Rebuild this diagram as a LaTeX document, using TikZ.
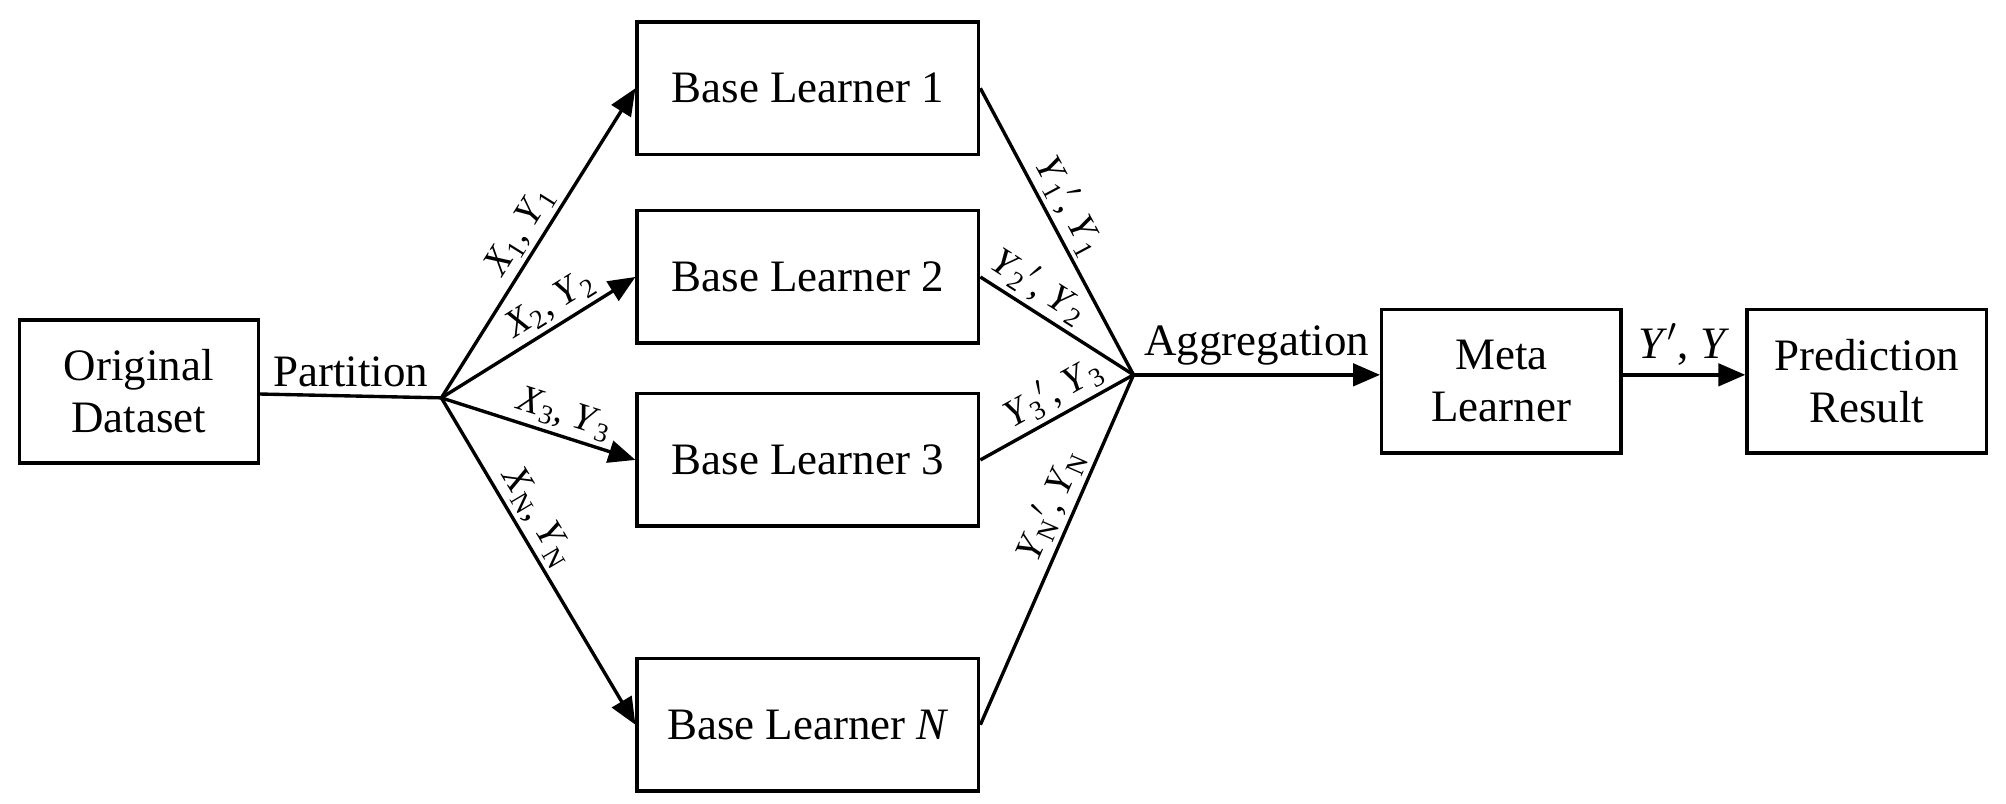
\documentclass[tikz,border=0pt]{standalone}
\usepackage{fontspec}
\setmainfont{Liberation Serif}
\usetikzlibrary{arrows.meta}
\newcommand{\lbl}[3]{\textit{#1}\textsubscript{#2}#3}
\begin{document}
\begin{tikzpicture}[line width=1.5pt,
    every node/.style={font=\fontsize{20}{23}\selectfont},
    block/.style ={rectangle, draw, minimum width=3.74cm, minimum height=2.24cm, align=center},
    learner/.style ={rectangle, draw, minimum width=5.34cm, minimum height=2.07cm},
    edge label/.style ={sloped, above, inner sep=2pt, font=\fontsize{17}{20}\selectfont},
    arr/.style ={-{Triangle[length=12pt,width=10pt]}}]
   \useasboundingbox (0,0) rectangle (31.36,12.56);
   \node[block] (O) at (2.17,6.44) {Original\\Dataset};
   \coordinate (P) at (6.9,6.34);
   \node[learner] (B1) at (12.63,11.18) {Base Learner 1};
   \node[learner] (B2) at (12.63,8.23) {Base Learner 2};
   \node[learner] (B3) at (12.63,5.37) {Base Learner 3};
   \node[learner] (BN) at (12.63,1.23) {Base Learner \textit{N}};
   \coordinate (A) at (17.72,6.70);
   \node[block] (M) at (23.47,6.6) {Meta\\Learner};
   \node[block] (R) at (29.18,6.6) {Prediction\\Result};

   \draw (O) to node[above] {Partition} (P);
   \draw[arr] (P) to node[edge label,pos=0.5] {\lbl{X}{1}{}, \lbl{Y}{1}{}} (B1.west);
   \draw[arr] (P) to node[edge label,pos=0.62] {\lbl{X}{2}{}, \lbl{Y}{2}{}} (B2.west);
   \draw[arr] (P) to node[edge label,pos=0.6] {\lbl{X}{3}{}, \lbl{Y}{3}{}} (B3.west);
   \draw[arr] (P) to node[edge label,pos=0.4] {\lbl{X}{N}{}, \lbl{Y}{N}{}} (BN.west);
   \draw (B1.east) to node[edge label,pos=0.45] {\lbl{Y}{1}{$'$}, \lbl{Y}{1}{}} (A);
   \draw (B2.east) to node[edge label,pos=0.3] {\lbl{Y}{2}{$'$}, \lbl{Y}{2}{}} (A);
   \draw (B3.east) to node[edge label,pos=0.55] {\lbl{Y}{3}{$'$}, \lbl{Y}{3}{}} (A);
   \draw (BN.east) to node[edge label,pos=0.6] {\lbl{Y}{N}{$'$}, \lbl{Y}{N}{}} (A);
   \draw[arr] (A) to node[above] {Aggregation} (M.west |- A);
   \draw[arr] (M.east |- A) to node[above] {\textit{Y}$'$, \textit{Y}} (R.west |- A);
 \end{tikzpicture}
\end{document}
